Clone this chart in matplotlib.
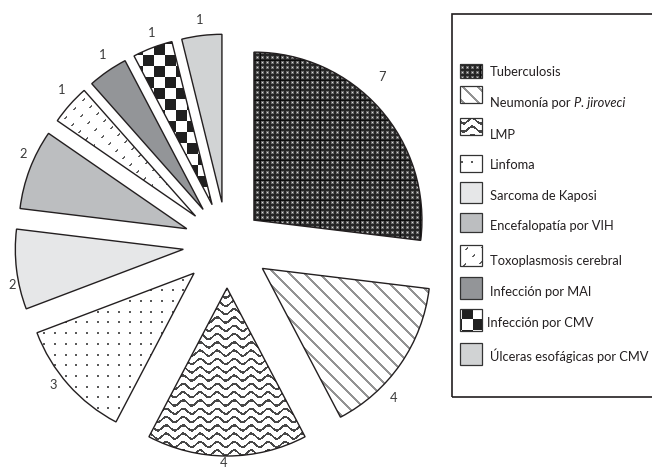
import numpy as np
import matplotlib
matplotlib.use("Agg")
import matplotlib.pyplot as plt
from matplotlib.patches import Rectangle

plt.rcParams['font.family'] = ['Lato', 'DejaVu Sans']

# ---------------- data ----------------
categories = ["Tuberculosis", "Neumonía por P. jiroveci", "LMP", "Linfoma",
              "Sarcoma de Kaposi", "Encefalopatía por VIH", "Toxoplasmosis cerebral",
              "Infección por MAI", "Infección por CMV", "Úlceras esofágicas por CMV"]
values = [7, 4, 4, 3, 2, 2, 1, 1, 1, 1]
value_labels = ["7", "4", "4", "3", "2", "2", "1", "1", "1", "1"]

# ---------------- styles ----------------
W, H = 652, 470
CX, CY = 227, 470 - 244       # pie centre (pixel data units, y up)
R = 168
explode = [36, 43, 44, 44, 44, 43, 42, 42, 42, 42]
label_dist = [228, 227, 219, 224, 219, 223, 226, 226, 224, 226]
label_dang = [5.5, -8, -1, -2.5, 4, -3, -1.5, -1.3, -1.2, 0]
fills = ["tex", "tex", "tex", "tex", "#e6e7e8", "#bcbec0", "tex", "#939598", "tex", "#d1d3d4"]
edge = "#231f20"

yy, xx = np.mgrid[0:H, 0:W].astype(float)

def tex_tb():
    a = np.full((H, W), 0.15)
    mx, my = xx % 5, yy % 5
    a[(mx >= 1) & (mx <= 3) & (my >= 1) & (my <= 3)] = 0.42
    a[(mx == 2) & (my == 2)] = 0.85
    a[(xx % 20 == 0) | (yy % 20 == 0)] = 0.05
    return a

def tex_neu():
    d = (xx - yy) % 15
    return np.where(d < 2.6, 0.58, 1.0)

def tex_lmp():
    ph = (yy - 2.6 * np.sin(2 * np.pi * xx / 17.0)) % 8.3
    return np.where(np.abs(ph - 4.1) < 1.2, 0.28, 1.0)

def tex_lin():
    mx, my = xx % 10.7, yy % 10.7
    return np.where((mx < 2) & (my < 2), 0.35, 1.0)

def tex_toxo():
    s = (xx + yy) % 14
    t = (xx - yy) % 18
    return np.where((s < 1.8) & (t < 5), 0.38, 1.0)

def tex_cmv():
    return np.where(((xx // 11) + (yy // 11)) % 2 == 0, 0.13, 1.0)

textures = {0: tex_tb(), 1: tex_neu(), 2: tex_lmp(), 3: tex_lin(), 6: tex_toxo(), 8: tex_cmv()}

fig = plt.figure(figsize=(W / 100, H / 100), dpi=100)
ax = fig.add_axes([0, 0, 1, 1])

wedges, _ = ax.pie(values, startangle=90, counterclock=False, radius=R,
                   center=(CX, CY), explode=explode,
                   wedgeprops=dict(edgecolor=edge, linewidth=1.0))
ax.set_xlim(0, W)
ax.set_ylim(0, H)
ax.set_aspect('equal')
ax.axis('off')

for i, w in enumerate(wedges):
    w.set_zorder(3)
    if fills[i] == "tex":
        w.set_facecolor("none")
        im = ax.imshow(textures[i], cmap='gray', vmin=0, vmax=1, extent=(0, W, 0, H),
                       origin='upper', interpolation='nearest', zorder=2)
        im.set_clip_path(w)
    else:
        w.set_facecolor(fills[i])
    th = np.deg2rad(0.5 * (w.theta1 + w.theta2) + label_dang[i])
    ax.text(CX + label_dist[i] * np.cos(th), CY + label_dist[i] * np.sin(th), value_labels[i],
            ha='center', va='center', fontsize=9.3, color='#3a3a3a', zorder=5)

ax.set_xlim(0, W)
ax.set_ylim(0, H)

# ---------------- legend ----------------
ax.add_patch(Rectangle((452, H - 397), 205, 397 - 14, fill=False, edgecolor=edge,
                       linewidth=1.2, zorder=4))
leg_patch = [(64, 78), (86, 103), (118, 135), (155, 172), (182, 203), (213, 232),
             (245, 266), (277, 299), (309, 331), (343, 365)]
leg_text_y = [72, 103, 135, 165, 196, 226, 261, 292, 323, 356]
leg_text_x = [490, 490, 490, 490, 490, 490, 490, 490, 487, 490]

renderer = fig.canvas.get_renderer()
for i, name in enumerate(categories):
    t0, t1 = leg_patch[i]
    rect = Rectangle((460, H - t1), 22, t1 - t0, edgecolor='#333333', linewidth=0.9,
                     facecolor='none' if fills[i] == "tex" else fills[i], zorder=4)
    ax.add_patch(rect)
    if fills[i] == "tex":
        im = ax.imshow(textures[i], cmap='gray', vmin=0, vmax=1, extent=(0, W, 0, H),
                       origin='upper', interpolation='nearest', zorder=3)
        im.set_clip_path(rect)
    ty = H - leg_text_y[i]
    if "P. jiroveci" in name:
        t = ax.text(leg_text_x[i], ty, "Neumonía por ", ha='left', va='center',
                    fontsize=9.3, color=edge, zorder=5)
        bb = t.get_window_extent(renderer)
        ax.text(bb.x1, ty, "P. jiroveci", ha='left', va='center', fontsize=9.3,
                color=edge, style='italic', zorder=5)
    else:
        ax.text(leg_text_x[i], ty, name, ha='left', va='center', fontsize=9.3,
                color=edge, zorder=5)

ax.set_xlim(0, W)
ax.set_ylim(0, H)
fig.savefig("out.png", dpi=100)
